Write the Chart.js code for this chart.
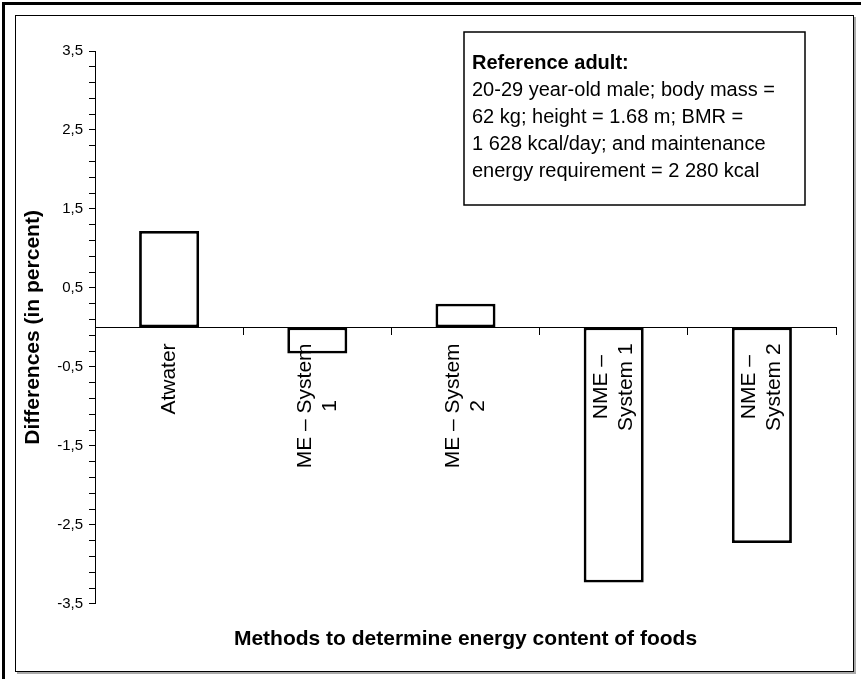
<!DOCTYPE html>
<html><head><meta charset="utf-8">
<script src="https://cdn.jsdelivr.net/npm/chart.js@4"></script>
<style>
html,body{margin:0;padding:0;background:#fff;}
#wrap{position:relative;width:861px;height:679px;overflow:hidden;background:#fff;}
#outer{position:absolute;left:2px;top:2px;width:900px;height:700px;border-top:3px solid #000;border-left:3px solid #000;}
#inner{position:absolute;box-sizing:border-box;left:15px;top:15px;width:839px;height:657px;border:1.5px solid #000;box-shadow:2px 2px 0 #aaa;}
canvas{position:absolute;left:0;top:0;}
</style></head>
<body><div id="wrap"><div id="outer"></div><div id="inner"></div><canvas id="c" width="861" height="679"></canvas></div>
<script>
const categories = [['Atwater'], ['ME – System', '1'], ['ME – System', '2'], ['NME –', 'System 1'], ['NME –', 'System 2']];
const differences = [1.22, -0.33, 0.30, -3.23, -2.73];
const yMajorTicks = [3.5, 2.5, 1.5, 0.5, -0.5, -1.5, -2.5, -3.5];
const yTickLabels = ['3,5', '2,5', '1,5', '0,5', '-0,5', '-1,5', '-2,5', '-3,5'];
const yMinorStep = 0.2;
const xTitle = 'Methods to determine energy content of foods';
const yTitle = 'Differences (in percent)';
const noteTitle = 'Reference adult:';
const noteLines = ['20-29 year-old male; body mass =', '62 kg; height = 1.68 m; BMR =', '1 628 kcal/day; and maintenance', 'energy requirement = 2 280 kcal'];

const FONT = "'Liberation Sans', Arial, Helvetica, sans-serif";

const catLabelsPlugin = {
  id: 'catLabels',
  afterDatasetsDraw(chart) {
    const {ctx, scales: {x, y}} = chart;
    const y0 = y.getPixelForValue(0);
    ctx.save();
    ctx.font = '21px ' + FONT;
    ctx.fillStyle = '#000';
    ctx.textAlign = 'center';
    ctx.textBaseline = 'middle';
    const lh = 25;
    categories.forEach((lines, i) => {
      const cx = x.getPixelForValue(i);
      const maxW = Math.max(...lines.map(l => ctx.measureText(l).width));
      ctx.save();
      ctx.translate(cx, y0 + 16);
      ctx.rotate(-Math.PI / 2);
      lines.forEach((l, j) => {
        ctx.fillText(l, -maxW / 2, (j - (lines.length - 1) / 2) * lh);
      });
      ctx.restore();
    });
    ctx.restore();
  }
};

const notePlugin = {
  id: 'note',
  afterDraw(chart) {
    const {ctx} = chart;
    const left = 464, top = 32, w = 341, h = 173;
    ctx.save();
    ctx.fillStyle = '#fff';
    ctx.fillRect(left, top, w, h);
    ctx.lineWidth = 1.5;
    ctx.strokeStyle = '#000';
    ctx.strokeRect(left, top, w, h);
    ctx.fillStyle = '#000';
    ctx.textAlign = 'left';
    ctx.textBaseline = 'middle';
    ctx.font = 'bold 20px ' + FONT;
    ctx.fillText(noteTitle, 472, 63);
    ctx.font = '20px ' + FONT;
    noteLines.forEach((l, i) => ctx.fillText(l, 472, 90 + 27 * i));
    ctx.restore();
  }
};

new Chart(document.getElementById('c'), {
  type: 'bar',
  data: {
    labels: categories,
    datasets: [{
      data: differences,
      backgroundColor: '#fff',
      borderColor: '#000',
      borderWidth: 2.8,
      borderSkipped: false,
      barPercentage: 0.405,
      categoryPercentage: 1
    }]
  },
  options: {
    responsive: false,
    devicePixelRatio: 1,
    animation: false,
    layout: {padding: {left: 0, top: 51, right: 25, bottom: 0}},
    plugins: {
      legend: {display: false},
      tooltip: {enabled: false},
      title: {
        display: true, text: xTitle, position: 'bottom', fullSize: false,
        font: {size: 21, weight: 'bold', family: FONT}, color: '#000',
        padding: {top: 23, bottom: 27}
      }
    },
    scales: {
      x: {
        position: {y: 0},
        offset: true,
        ticks: {display: false},
        grid: {offset: true, drawOnChartArea: false, tickLength: 7, color: '#000'},
        border: {color: '#000', width: 1}
      },
      y: {
        min: -3.5, max: 3.5,
        afterBuildTicks(scale) {
          const t = [];
          for (let k = 0; k <= 35; k++) t.push({value: Math.round((3.5 - k * yMinorStep) * 10) / 10});
          scale.ticks = t;
        },
        afterFit(scale) { scale.width = 95; },
        ticks: {
          autoSkip: false, color: '#000', padding: 6,
          font: {size: 15, family: FONT},
          callback(v) {
            const i = yMajorTicks.findIndex(m => Math.abs(m - v) < 1e-6);
            return i >= 0 ? yTickLabels[i] : '';
          }
        },
        grid: {drawOnChartArea: false, tickLength: 6, color: '#000'},
        border: {color: '#000', width: 1},
        title: {
          display: true, text: yTitle, color: '#000',
          font: {size: 21, weight: 'bold', family: FONT},
          padding: {top: 21, bottom: 0}
        }
      }
    }
  },
  plugins: [catLabelsPlugin, notePlugin]
});
</script>
</body></html>
